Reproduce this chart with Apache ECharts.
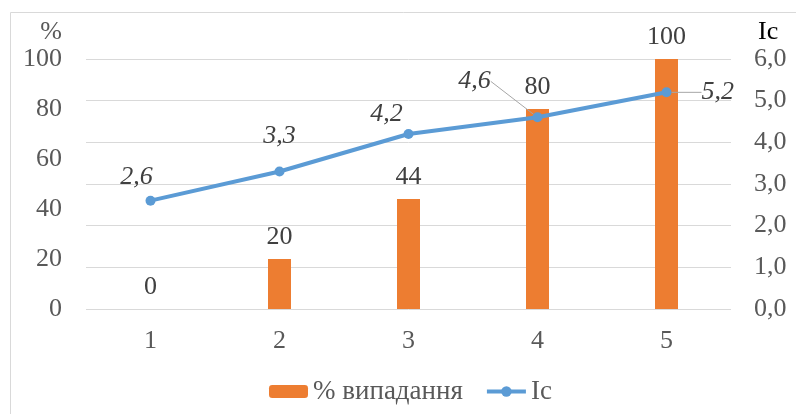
<!DOCTYPE html>
<html><head><meta charset="utf-8">
<script src="https://cdn.jsdelivr.net/npm/echarts@6/dist/echarts.min.js"></script>
<style>html,body{margin:0;padding:0;background:#fff}#c{width:796px;height:414px}</style>
</head><body><div id="c"></div>
<script>
const categories = ['1', '2', '3', '4', '5'];
const dropPercent = [0, 20, 44, 80, 100];
const icValues = [2.6, 3.3, 4.2, 4.6, 5.2];
const leftTicks = [0, 20, 40, 60, 80, 100];
const rightTicks = [0, 1, 2, 3, 4, 5, 6];

// label placement (style only)
const icLabelPlace = [
  {position: 'top', shift: [-14, 0]},
  {position: 'top', shift: [0, -12]},
  {position: 'top', shift: [-22, 3]},
  {position: 'top', shift: [-63, -13], guide: 'left'},
  {position: 'right', distance: 30, shift: [0, 0], guide: 'right'}
];

const FONT = 'Liberation Serif';
const FS = 26;
const chart = echarts.init(document.getElementById('c'));
const fmt1 = v => v.toFixed(1).replace('.', ',');

chart.setOption({
  animation: false,
  textStyle: {fontFamily: FONT},
  graphic: [{type: 'rect', left: 8, top: 10, shape: {width: 800, height: 420},
    style: {fill: 'none', stroke: '#d9d9d9', lineWidth: 1}, silent: true}],
  grid: {left: 86, right: 65, top: 59, bottom: 105, containLabel: false},
  legend: {
    left: 264, top: 373, itemWidth: 39, itemHeight: 13, itemGap: 22,
    textStyle: {fontFamily: FONT, fontSize: 27, color: '#595959'},
    data: ['% випадання', {name: 'Ic', lineStyle: {width: 4}}]
  },
  xAxis: {
    type: 'category', data: categories,
    axisLine: {show: false}, axisTick: {show: false},
    axisLabel: {fontFamily: FONT, fontSize: FS, color: '#595959', margin: 19}
  },
  yAxis: [{
    type: 'value', min: leftTicks[0], max: leftTicks[leftTicks.length - 1], interval: leftTicks[1] - leftTicks[0],
    name: '%', nameLocation: 'end', nameGap: 27,
    nameTextStyle: {fontFamily: FONT, fontSize: FS, color: '#595959', align: 'right', verticalAlign: 'middle', padding: [0, 24, 0, 0]},
    splitLine: {show: false}, axisLine: {show: false}, axisTick: {show: false},
    axisLabel: {fontFamily: FONT, fontSize: FS, color: '#595959', margin: 24}
  }, {
    type: 'value', position: 'right', min: rightTicks[0], max: rightTicks[rightTicks.length - 1], interval: rightTicks[1] - rightTicks[0],
    name: 'Ic', nameLocation: 'end', nameGap: 27,
    nameTextStyle: {fontFamily: FONT, fontSize: FS, color: '#000', align: 'left', verticalAlign: 'middle', padding: [0, 0, 0, 27]},
    splitLine: {show: true, lineStyle: {color: '#d9d9d9', width: 1}},
    axisLine: {show: false}, axisTick: {show: false},
    axisLabel: {fontFamily: FONT, fontSize: FS, color: '#595959', margin: 23, formatter: fmt1}
  }],
  series: [{
    name: '% випадання', type: 'bar', yAxisIndex: 0, barWidth: 23,
    itemStyle: {color: '#ED7D31'},
    label: {show: true, position: 'top', distance: 9, fontFamily: FONT, fontSize: FS, lineHeight: 26, color: '#404040'},
    data: dropPercent
  }, {
    name: 'Ic', type: 'line', yAxisIndex: 1,
    symbol: 'circle', symbolSize: 10,
    lineStyle: {color: '#5B9BD5', width: 4},
    itemStyle: {color: '#5B9BD5'},
    label: {show: true, fontFamily: FONT, fontSize: FS, lineHeight: 26, fontStyle: 'italic', color: '#404040', formatter: p => fmt1(p.value)},
    labelLine: {show: false, lineStyle: {color: '#a6a6a6', width: 1}},
    labelLayout: function (p) {
      const pl = icLabelPlace[p.dataIndex];
      if (!pl) return {};
      const dx = pl.shift[0], dy = pl.shift[1];
      const res = {dx: dx, dy: dy};
      if (!pl.guide) return res;
      const lr = p.labelRect, r = p.rect;
      const lx = lr.x + dx, lyTop = lr.y + dy;
      const cx = r.x + r.width / 2, cy = r.y + r.height / 2;
      const ly = lyTop + lr.height / 2;
      if (pl.guide === 'left') {
        res.labelLinePoints = [[lx + lr.width + 3, ly], [lx + lr.width + 11, ly], [cx - 3, cy - 4]];
      } else {
        res.labelLinePoints = [[cx + 6, cy], [cx + 13, cy - 2], [lx - 4, ly - 2]];
      }
      return res;
    },
    data: icValues.map((v, i) => {
      const pl = icLabelPlace[i];
      const lab = {position: pl.position};
      if (pl.distance !== undefined) lab.distance = pl.distance;
      const item = {value: v, label: lab};
      if (pl.guide) item.labelLine = {show: true, lineStyle: {color: '#a6a6a6', width: 1}};
      return item;
    })
  }]
});
</script></body></html>
